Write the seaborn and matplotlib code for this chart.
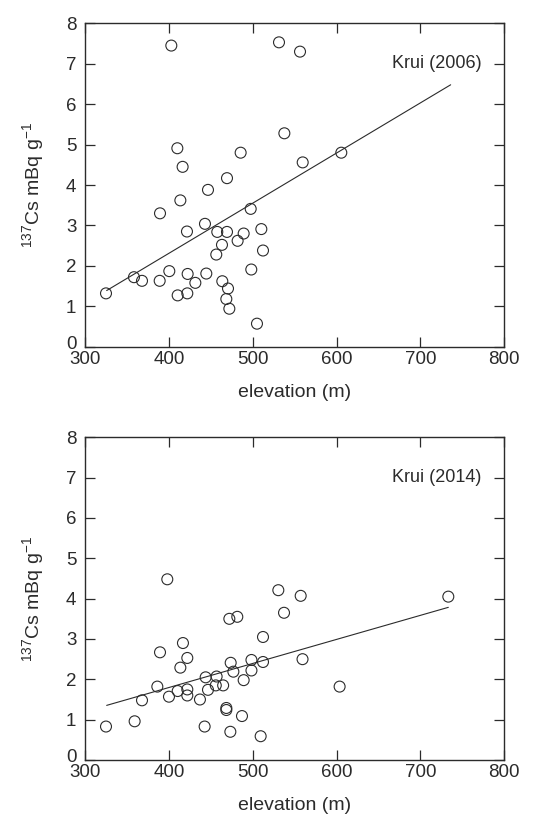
import numpy as np
import pandas as pd
import matplotlib
matplotlib.use("Agg")
import matplotlib.pyplot as plt
import matplotlib.transforms as mtransforms
import seaborn as sns

# --- Krui (2006) samples ---
elev_2006 = [402.7, 531.3, 556.4, 537.7, 409.9, 485.5, 605.7, 416.2, 559.6, 469.2,
             446.5, 413.5, 389.2, 497.5, 442.9, 421.4, 457.6, 469.2, 489.1, 510.2,
             481.9, 463.2, 456.4, 512.2, 400.3, 498.2, 358.1, 367.7, 388.8, 422.2,
             444.5, 431.4, 463.6, 470.4, 324.7, 410.3, 421.8, 468.4, 472.0, 505.0]
cs_2006 = [7.45, 7.53, 7.30, 5.28, 4.91, 4.80, 4.80, 4.45, 4.56, 4.17,
           3.88, 3.62, 3.30, 3.41, 3.04, 2.85, 2.84, 2.84, 2.80, 2.91,
           2.62, 2.52, 2.28, 2.38, 1.87, 1.91, 1.72, 1.63, 1.63, 1.80,
           1.81, 1.58, 1.62, 1.44, 1.32, 1.27, 1.32, 1.18, 0.94, 0.57]

# --- Krui (2014) samples ---
elev_2014 = [397.9, 530.5, 557.2, 733.5, 537.3, 472.0, 481.5, 512.2, 416.6, 389.2,
             421.8, 559.4, 413.5, 473.6, 498.4, 512.2, 476.8, 498.4, 443.7, 456.8,
             489.1, 386.0, 603.7, 455.8, 464.6, 410.3, 421.8, 446.5, 399.9, 421.8,
             436.9, 367.7, 468.4, 468.4, 358.9, 487.1, 324.7, 442.5, 473.2, 509.4]
cs_2014 = [4.48, 4.21, 4.07, 4.05, 3.65, 3.50, 3.55, 3.05, 2.90, 2.67,
           2.53, 2.50, 2.29, 2.41, 2.48, 2.43, 2.19, 2.22, 2.05, 2.07,
           1.98, 1.82, 1.82, 1.85, 1.85, 1.71, 1.75, 1.74, 1.57, 1.60,
           1.50, 1.48, 1.29, 1.24, 0.96, 1.09, 0.83, 0.83, 0.70, 0.59]

# linear trend lines: (slope, intercept) and the elevation span they cover
fit_2006 = (0.01239, -2.643)
span_2006 = [325.5, 736.3]
fit_2014 = (0.005956, -0.584)
span_2014 = [325.5, 733.5]

labels = ["Krui (2006)", "Krui (2014)"]
x_ticks = [300, 400, 500, 600, 700, 800]
y_ticks = [0, 1, 2, 3, 4, 5, 6, 7, 8]

sns.set_theme(style="ticks")
ink = "#2b2b2b"
plt.rcParams.update({
    "font.family": ["Liberation Sans", "DejaVu Sans"],
    "mathtext.fontset": "custom",
    "mathtext.rm": "Liberation Sans",
    "mathtext.it": "Liberation Sans:italic",
    "mathtext.bf": "Liberation Sans:bold",
    "axes.edgecolor": ink,
    "axes.linewidth": 1.0,
    "xtick.color": ink,
    "ytick.color": ink,
    "xtick.labelcolor": ink,
    "ytick.labelcolor": ink,
    "text.color": ink,
    "axes.labelcolor": ink,
})

fig = plt.figure(figsize=(5.41, 8.16), dpi=100)
ax_top = fig.add_axes([0.1577, 0.5751, 0.7739, 0.3963])
ax_bot = fig.add_axes([0.1577, 0.0686, 0.7739, 0.3955])

panels = [
    (ax_top, elev_2006, cs_2006, fit_2006, span_2006, labels[0]),
    (ax_bot, elev_2014, cs_2014, fit_2014, span_2014, labels[1]),
]

# lift the "0" label slightly so it clears the first x label
lift = mtransforms.ScaledTranslation(0, 3.0 / 72, fig.dpi_scale_trans)

for ax, ex, cs, fit, span, lab in panels:
    df = pd.DataFrame({"elevation": ex, "cs": cs})
    sns.scatterplot(data=df, x="elevation", y="cs", ax=ax, s=62,
                    facecolor="none", edgecolor=ink, linewidth=0.8, zorder=3)
    line = pd.DataFrame({"elevation": span,
                         "cs": [fit[0] * v + fit[1] for v in span]})
    sns.lineplot(data=line, x="elevation", y="cs", ax=ax, color=ink,
                 linewidth=0.8, zorder=2)
    ax.set_xlim(300, 800)
    ax.set_ylim(0, 8)
    ax.set_xticks(x_ticks)
    ax.set_yticks(y_ticks)
    ax.tick_params(direction="in", length=7, width=0.9, top=True, right=True,
                   labelsize=13.5)
    ax.tick_params(axis="x", pad=3.0)
    ax.tick_params(axis="y", pad=6.5)
    ax.set_xlabel("elevation (m)", fontsize=14, labelpad=11.5)
    ax.set_ylabel(r"$^{137}$Cs mBq g$^{-1}$", fontsize=14, labelpad=14)
    ax.text(773, 7.0, lab, ha="right", va="center", fontsize=13)
    for sp in ax.spines.values():
        sp.set_visible(True)
    zero_lbl = ax.yaxis.get_major_ticks()[0].label1
    zero_lbl.set_transform(zero_lbl.get_transform() + lift)

fig.savefig("out.png", dpi=100)
